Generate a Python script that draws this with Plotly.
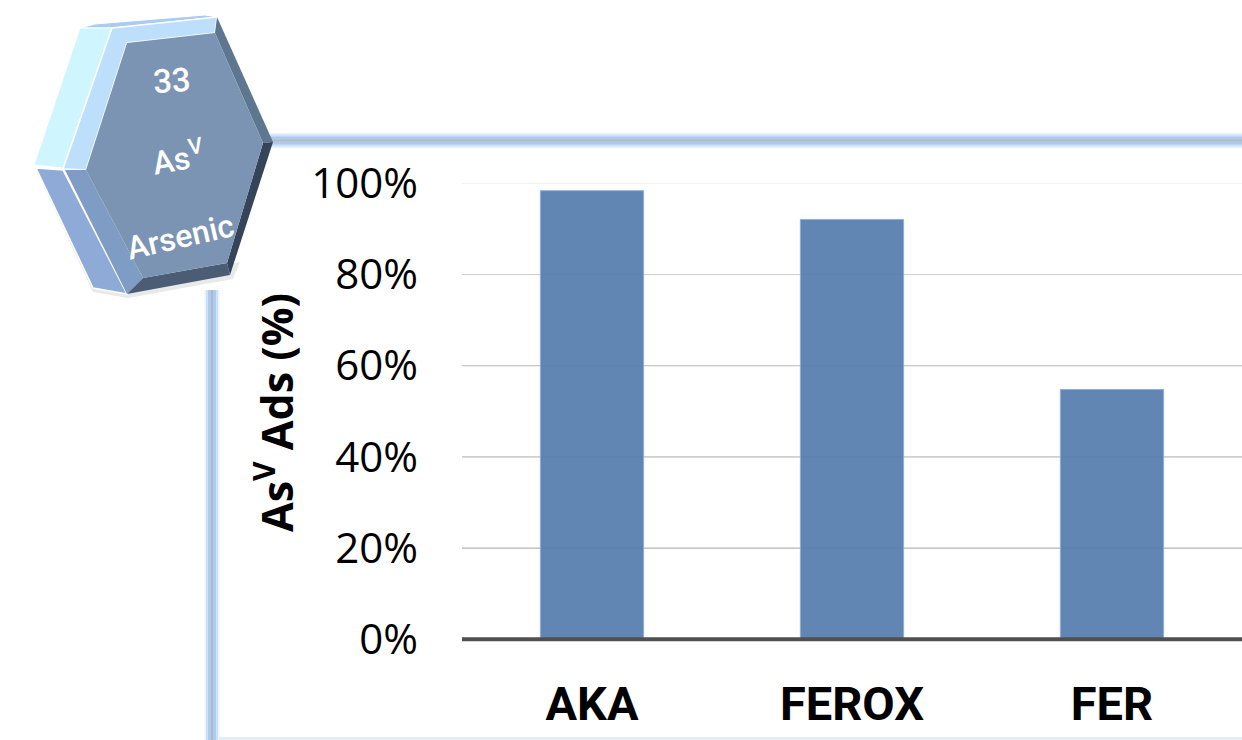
import plotly.graph_objects as go

W, H = 1242, 740
categories = ["AKA", "FEROX", "FER"]
adsorption = [98.4, 92.1, 54.8]
y_ticks = [0, 20, 40, 60, 80, 100]
y_tick_labels = ["0%", "20%", "40%", "60%", "80%", "100%"]
grid_colors = ["#505050", "#A2A2A2", "#AAAAAA", "#B6B6B6", "#CFCFCF", "#E2E2E2"]


def px(x):
    return x / W


def py(y):
    return 1 - y / H


def poly(points, fill, line=None, width=0):
    path = "M " + " L ".join(f"{px(x):.5f},{py(y):.5f}" for x, y in points) + " Z"
    return dict(type="path", xref="paper", yref="paper", path=path, fillcolor=fill,
                line=dict(color=line or fill, width=width), layer="above")


def band(x0, y0, x1, y1, color, width):
    return dict(type="line", xref="paper", yref="paper", x0=px(x0), y0=py(y0), x1=px(x1), y1=py(y1),
                line=dict(color=color, width=width), layer="below")


shapes = []
# blurred frame around the plot
for color, width in [("#EAF2FD", 15), ("#CFE1F9", 12), ("#ABCBF3", 8)]:
    shapes.append(band(270, 140.5, W, 140.5, color, width))
    shapes.append(band(212, 290, 212, H, color, width))
shapes.append(band(270, 140.5, W, 140.5, "#BDBDB8", 2))
shapes.append(band(212, 290, 212, H, "#B4B8BE", 2))
shapes.append(band(219, 738.5, W, 738.5, "#E4ECF9", 3))

# soft shadow under the badge
shapes.append(poly([(36, 170), (93, 292), (128, 298), (233, 279), (240, 262), (128, 285)], "#E9E9E9"))
# badge facets
shapes += [
    poly([(95, 24), (205, 15), (217, 17), (112, 28), (80, 28)], "#A9CCF3", "#FFFFFF", 1),
    poly([(80, 28), (112, 28), (63, 168), (34, 165)], "#CFF6FF", "#FFFFFF", 1),
    poly([(112, 28), (217, 17), (215, 33), (127, 43), (86, 170), (63, 169)], "#BEDFFB", "#FFFFFF", 1.5),
    poly([(36, 168), (63, 170), (127, 294), (93, 288)], "#8DABD6", "#FFFFFF", 1.5),
    poly([(65, 170), (86, 170), (143, 278), (127, 294)], "#7E9CC4"),
    poly([(217, 17), (273, 142), (263, 143), (215, 33)], "#5E7690"),
    poly([(263, 143), (273, 142), (230, 275), (227, 263)], "#36445A"),
    poly([(127, 294), (230, 275), (227, 263), (143, 278)], "#4B5C75"),
    poly([(127, 43), (215, 33), (263, 143), (227, 263), (143, 278), (86, 170)], "#7B94B3"),
]
# gridlines
for tick, color in zip(y_ticks[1:], grid_colors[1:]):
    shapes.append(dict(type="line", xref="x domain", yref="y", x0=0, x1=1, y0=tick, y1=tick,
                       line=dict(color=color, width=1), layer="below"))
# baseline (paper reference so that its full width is not clipped by the plot area)
shapes.append(dict(type="line", xref="paper", yref="paper", x0=px(462), x1=1, y0=py(639.3), y1=py(639.3),
                   line=dict(color=grid_colors[0], width=4), layer="above"))

fig = go.Figure(go.Bar(
    x=categories, y=adsorption, width=0.397,
    marker=dict(color="rgba(84,124,174,0.92)", line=dict(color="#8FAFD6", width=1)),
    hoverinfo="skip",
))


def badge_text(text, x, y, size, angle):
    return dict(text=text, xref="paper", yref="paper", x=px(x), y=py(y), showarrow=False,
                textangle=angle, xanchor="center", yanchor="middle",
                font=dict(family="Roboto", size=size, color="#FFFFFF", weight=500))


fig.update_layout(
    width=W, height=H, autosize=False,
    margin=dict(l=0, r=0, t=0, b=0, autoexpand=False),
    paper_bgcolor="#FFFFFF", plot_bgcolor="rgba(0,0,0,0)",
    showlegend=False,
    shapes=shapes,
    annotations=[
        badge_text("33", 172, 80, 33, -4),
        badge_text("As<sup>V</sup>", 178, 157, 32, -10),
        badge_text("Arsenic", 180, 237, 32, -13),
        dict(text="As<sup>V</sup> Ads (%)", xref="paper", yref="paper", x=px(274), y=py(413),
             showarrow=False, textangle=-90, xanchor="center", yanchor="middle",
             font=dict(family="Open Sans", size=43, color="#000000", weight=700)),
    ],
    xaxis=dict(
        domain=[px(462), 1], range=[-0.5, 2.5], type="category", showgrid=False, zeroline=False,
        showline=False, ticks="", ticklabelstandoff=33, automargin=False,
        tickfont=dict(family="Roboto", size=47, color="#000000", weight=700),
    ),
    yaxis=dict(
        domain=[py(639.3), py(183.4)], range=[0, 100], tickmode="array", tickvals=y_ticks,
        ticktext=y_tick_labels, showgrid=False, zeroline=False, showline=False, ticks="",
        ticklabelstandoff=43, automargin=False,
        tickfont=dict(family="Open Sans", size=42, color="#000000"),
    ),
)

fig.write_html("out.html", config={"displayModeBar": False},
               post_script="document.body.style.margin='0';")
